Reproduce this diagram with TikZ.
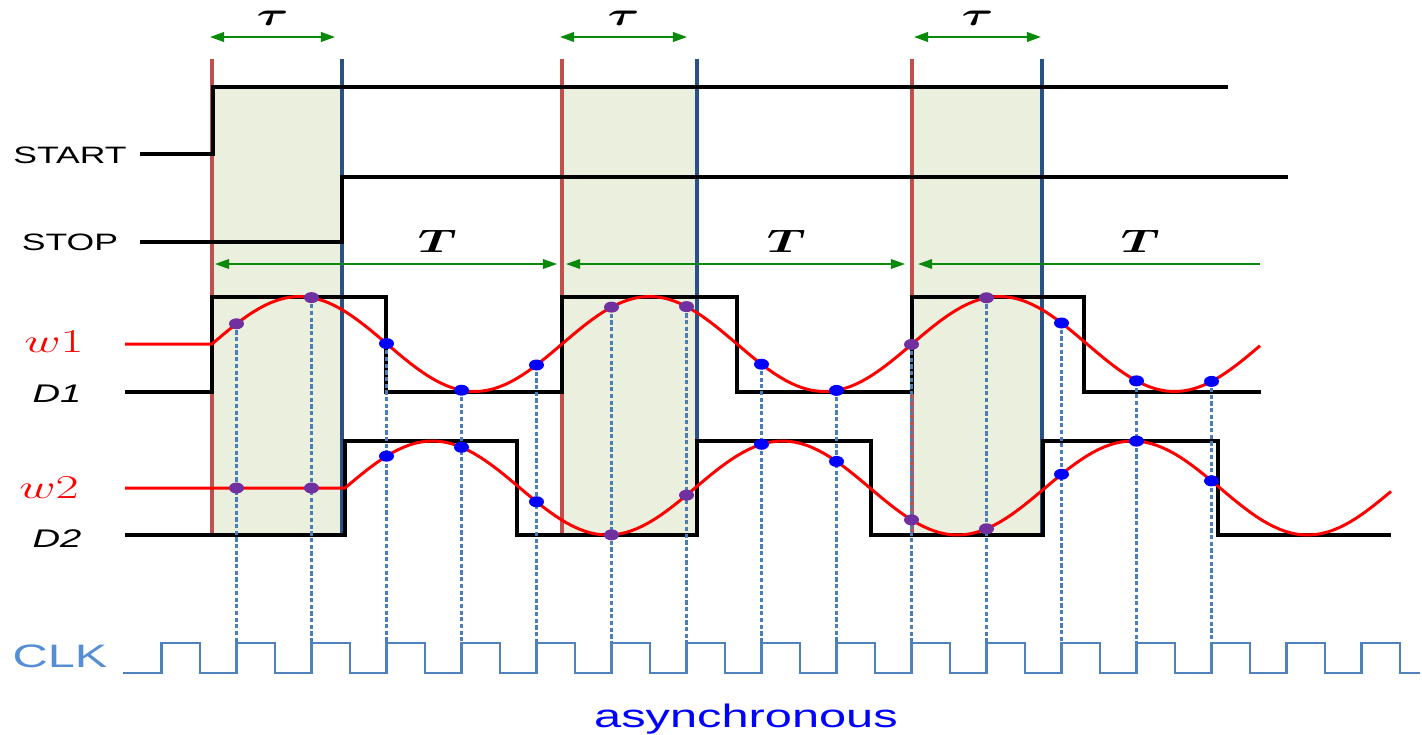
\RequirePackage{fix-cm}
\documentclass[tikz,border=0pt]{standalone}
\usepackage{amsmath}
\usepackage{fontspec}
\setsansfont{Liberation Sans}
\usepackage{graphicx}
\usepackage{tikz}
\usetikzlibrary{arrows.meta}

\definecolor{startred}{HTML}{C0504D}
\definecolor{stopblue}{HTML}{2A5185}
\definecolor{windowfill}{HTML}{EBEFDE}
\definecolor{arrowgreen}{HTML}{0A8A0A}
\definecolor{clkblue}{HTML}{4F81BD}
\definecolor{sampleblue}{HTML}{4A7EBB}
\definecolor{clktext}{HTML}{558ED5}
\definecolor{dotpurple}{HTML}{7030A0}

% the slide is stretched sideways, so is its text
\newcommand{\widetxt}[1]{\scalebox{1.5}[1]{#1}}

\begin{document}
\begin{tikzpicture}[x=0.02cm, y=-0.02cm, >={Triangle[length=8pt,width=5.5pt]},
  sig/.style={line width=1.8pt},
  wave/.style={red, line width=1.7pt},
  edgeline/.style={line width=2.2pt},
  sampleline/.style={sampleblue, line width=1.3pt, dash pattern=on 2.4pt off 1.4pt},
  clkline/.style={clkblue, line width=1.2pt},
  tauspan/.style={<->, arrowgreen, line width=1.1pt},
  periodspan/.style={arrowgreen, line width=0.8pt},
  lbl/.style={anchor=base, inner sep=0pt},
  sigfont/.style={lbl, font=\sffamily\fontsize{13.5}{16}\selectfont},
  dfont/.style={lbl, font=\sffamily\itshape\fontsize{14.5}{17}\selectfont},
  wfont/.style={lbl, red, font=\fontsize{19}{22}\selectfont},
  bigfont/.style={lbl, font=\sffamily\fontsize{18.5}{22}\selectfont},
  mathlbl/.style={inner sep=0pt, text=black, font=\fontsize{18.5}{22}\selectfont}]
\useasboundingbox (0,0) rectangle (1422,734);

% Labels
\node[sigfont] (start) at (70,163) {\widetxt{START}};
\node[sigfont] (stop) at (70,250) {\widetxt{STOP}};
\node[wfont] (wone) at (54,352) {\widetxt{$w1$}};
\node[dfont] (done) at (57,402) {\widetxt{D1}};
\node[wfont] (wtwo) at (49,498) {\widetxt{$w2$}};
\node[dfont] (dtwo) at (57,547) {\widetxt{D2}};
\node[bigfont, text=clktext] (clk) at (60,667) {\widetxt{CLK}};
\node[bigfont, text=blue] (async) at (746,727) {\widetxt{asynchronous}};

% Windows from START to STOP
\foreach \a/\b in {212/342, 562/697, 912/1042}{
  \fill[windowfill] (\a,88) rectangle (\b,535);
  \draw[edgeline, startred] (\a,59) -- (\a,536);
  \draw[edgeline, stopblue] (\b,59) -- (\b,536);
}

% START, STOP, D1, D2
\draw[sig] (140,154) -| (213,87) -- (1228,87);
\draw[sig] (140,242) -| (342,177) -- (1288,177);
\draw[sig] (125,392) -| (212,297) -| (386,392) -| (562,297) -| (737,392) -| (912,297) -| (1084,392) -- (1261,392);
\draw[sig] (125,535) -| (345,441) -| (517,535) -| (697,441) -| (871,535) -| (1043,441) -| (1218,535) -- (1391,535);

% Sampling lines
\foreach \k in {1,...,14}{
  \pgfmathsetmacro{\sx}{161.5+75*\k}
  \pgfmathsetmacro{\ya}{344-47.5*sin((\sx-212)/350*360)}
  \draw[sampleline] (\sx,\ya) -- (\sx,643);
}

% Waves
\draw[wave] (125,344) -- (212,344) -- plot[domain=212:1260, samples=180] (\x,{344-47.5*sin((\x-212)/350*360)});
\draw[wave] (125,488) -- (345,488) -- plot[domain=345:1391, samples=180] (\x,{488-47*sin((\x-345)/350*360)});

% Samples
\foreach \k/\col in {1/dotpurple, 2/dotpurple, 3/blue, 4/blue, 5/blue, 6/dotpurple, 7/dotpurple,
    8/blue, 9/blue, 10/dotpurple, 11/dotpurple, 12/blue, 13/blue, 14/blue}{
  \pgfmathsetmacro{\sx}{161.5+75*\k}
  \pgfmathsetmacro{\ya}{344-47.5*sin((\sx-212)/350*360)}
  \pgfmathsetmacro{\yb}{(\sx<345) ? 488 : (488-47*sin((\sx-345)/350*360))}
  \fill[\col] (\sx,\ya) ellipse [x radius=7.5, y radius=5.5];
  \fill[\col] (\sx,\yb) ellipse [x radius=7.5, y radius=5.5];
}

% Clock
\draw[clkline] (123,673) \foreach \k in {0,...,16}{ -- ({161.5+75*\k},673) -- ++(0,-30) -- ++(38.5,0) -- ++(0,30) } -- (1420,673);

% Arrows
\coordinate (tauAl) at (210,37);
\coordinate (tauAr) at (335,37);
\coordinate (tauBl) at (560,37);
\coordinate (tauBr) at (687,37);
\coordinate (tauCl) at (914,37);
\coordinate (tauCr) at (1041,37);
\coordinate (perAl) at (215,264);
\coordinate (perAr) at (557,264);
\coordinate (perBl) at (566,264);
\coordinate (perBr) at (905,264);
\coordinate (perCl) at (918,264);
\coordinate (perCr) at (1260,264);
\draw[tauspan] (tauAl) -- node[mathlbl, above=6pt] (tauA) {\widetxt{$\boldsymbol{\tau}$}} (tauAr);
\draw[tauspan] (tauBl) -- node[mathlbl, above=6pt] (tauB) {\widetxt{$\boldsymbol{\tau}$}} (tauBr);
\draw[tauspan] (tauCl) -- node[mathlbl, above=6pt] (tauC) {\widetxt{$\boldsymbol{\tau}$}} (tauCr);
\draw[periodspan, <->] (perAl) -- node[mathlbl, pos=0.65, above=6pt] (perA) {\widetxt{$\boldsymbol{T}$}} (perAr);
\draw[periodspan, <->] (perBl) -- node[mathlbl, pos=0.65, above=6pt] (perB) {\widetxt{$\boldsymbol{T}$}} (perBr);
\draw[periodspan, <-] (perCl) -- node[mathlbl, pos=0.65, above=6pt] (perC) {\widetxt{$\boldsymbol{T}$}} (perCr);
\end{tikzpicture}
\end{document}
